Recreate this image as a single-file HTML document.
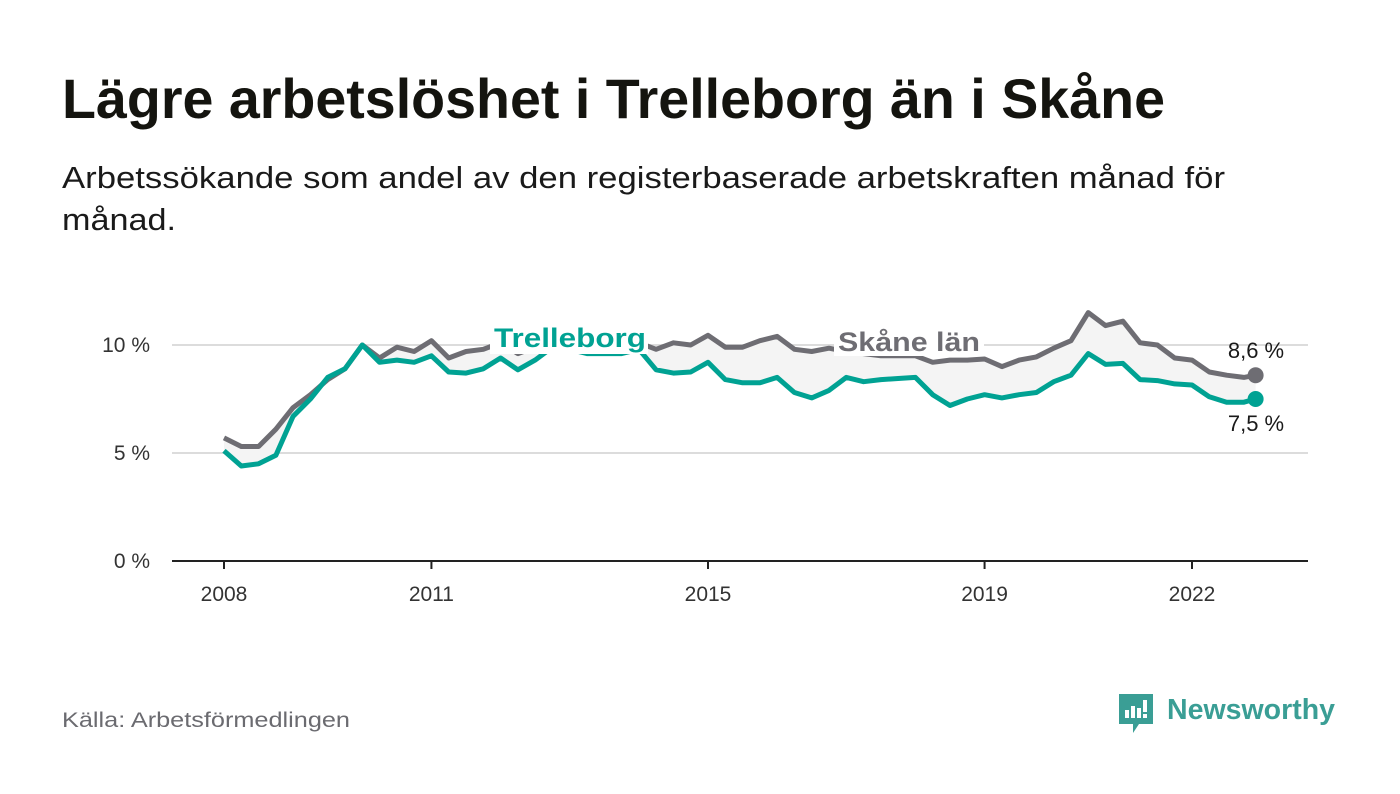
<!DOCTYPE html>
<html><head><meta charset="utf-8"><style>
body{margin:0;background:#fff;}
svg{display:block;font-family:"Liberation Sans",sans-serif;}
</style></head><body>
<svg width="1400" height="794" viewBox="0 0 1400 794" id="chart">
<text x="62" y="118" font-size="56" font-weight="bold" fill="#14140f" textLength="1103" lengthAdjust="spacingAndGlyphs">Lägre arbetslöshet i Trelleborg än i Skåne</text>
<text x="62" y="188" font-size="31" fill="#1a1a1a" textLength="1163" lengthAdjust="spacingAndGlyphs">Arbetssökande som andel av den registerbaserade arbetskraften månad för</text>
<text x="62" y="230" font-size="31" fill="#1a1a1a" textLength="114" lengthAdjust="spacingAndGlyphs">månad.</text>
<g id="grid"></g>
<g id="plot"></g>
<text x="62" y="727" font-size="21" fill="#6b6b70" textLength="288" lengthAdjust="spacingAndGlyphs">Källa: Arbetsförmedlingen</text>
<g>
<path d="M1119 694 h34 v30 h-14 l-6 9 v-9 h-14 z" fill="#3a9e95"/>
<rect x="1125" y="710" width="4" height="8" fill="#fff"/>
<rect x="1131" y="706" width="4" height="12" fill="#fff"/>
<rect x="1137" y="708" width="4" height="10" fill="#fff"/>
<rect x="1143" y="700" width="4" height="12" fill="#fff"/>
<rect x="1143" y="714" width="4" height="4" fill="#fff"/>
<text x="1167" y="719" font-size="29" font-weight="bold" fill="#3a9e95" textLength="168" lengthAdjust="spacingAndGlyphs">Newsworthy</text>
</g>
</svg>
<script>
const years=[2008,2008.25,2008.5,2008.75,2009,2009.25,2009.5,2009.75,2010,2010.25,2010.5,2010.75,2011,2011.25,2011.5,2011.75,2012,2012.25,2012.5,2012.75,2013,2013.25,2013.5,2013.75,2014,2014.25,2014.5,2014.75,2015,2015.25,2015.5,2015.75,2016,2016.25,2016.5,2016.75,2017,2017.25,2017.5,2017.75,2018,2018.25,2018.5,2018.75,2019,2019.25,2019.5,2019.75,2020,2020.25,2020.5,2020.75,2021,2021.25,2021.5,2021.75,2022,2022.25,2022.5,2022.75,2022.92];
const skane=[5.7,5.3,5.3,6.1,7.1,7.7,8.4,8.9,10.0,9.4,9.9,9.7,10.2,9.4,9.7,9.8,10.1,9.6,9.9,10.2,10.3,10.2,10.0,10.1,10.1,9.8,10.1,10.0,10.45,9.9,9.9,10.2,10.4,9.8,9.7,9.85,9.7,9.6,9.5,9.5,9.5,9.2,9.3,9.3,9.35,9.0,9.3,9.45,9.85,10.2,11.5,10.9,11.1,10.1,10.0,9.4,9.3,8.75,8.6,8.5,8.6];
const trelleborg=[5.1,4.4,4.5,4.9,6.7,7.5,8.5,8.9,10.0,9.2,9.3,9.2,9.5,8.75,8.7,8.9,9.4,8.85,9.3,9.9,9.8,9.6,9.6,9.6,9.8,8.85,8.7,8.75,9.2,8.4,8.25,8.25,8.5,7.8,7.55,7.9,8.5,8.3,8.4,8.45,8.5,7.7,7.2,7.5,7.7,7.55,7.7,7.8,8.3,8.6,9.6,9.1,9.15,8.4,8.35,8.2,8.15,7.6,7.35,7.35,7.5];
const yTicks=[0,5,10];
const yTickLabels=["0 %","5 %","10 %"];
const xTicks=[2008,2011,2015,2019,2022];
const NS="http://www.w3.org/2000/svg";
const X=y=>224+(y-2008)*(1192-224)/14;
const Y=v=>561-v*21.6;
function mk(tag,attrs,parent){const e=document.createElementNS(NS,tag);for(const k in attrs)e.setAttribute(k,attrs[k]);parent.appendChild(e);return e;}
const grid=document.getElementById('grid'),plot=document.getElementById('plot');
yTicks.forEach((t,i)=>{
  if(t>0){const l=mk('line',{x1:172,x2:1308,y1:Y(t),y2:Y(t),stroke:'#dcdcdc','stroke-width':2},grid);
  
  }
  const tx=mk('text',{x:150,y:Y(t)+7,'font-size':21,fill:'#333','text-anchor':'end'},grid);
  tx.textContent=yTickLabels[i];
  
  
});
const ax=mk('line',{x1:172,x2:1308,y1:561,y2:561,stroke:'#222','stroke-width':2},grid);


xTicks.forEach(t=>{
  mk('line',{x1:X(t),x2:X(t),y1:561,y2:569,stroke:'#222','stroke-width':2},grid);
  const tx=mk('text',{x:X(t),y:601,'font-size':21,fill:'#333','text-anchor':'middle'},grid);
  tx.textContent=t;
  
  
});
const pts=arr=>arr.map((v,i)=>X(years[i]).toFixed(1)+','+Y(v).toFixed(1));
const band=mk('polygon',{points:pts(skane).concat(pts(trelleborg).reverse()).join(' '),fill:'#f4f4f4'},plot);


const gl=mk('polyline',{points:pts(skane).join(' '),fill:'none',stroke:'#6e6d73','stroke-width':5,'stroke-linejoin':'round'},plot);


const tl=mk('polyline',{points:pts(trelleborg).join(' '),fill:'none',stroke:'#00a293','stroke-width':5,'stroke-linejoin':'round'},plot);


const n=years.length-1;
const gd=mk('circle',{cx:X(years[n]),cy:Y(skane[n]),r:8,fill:'#6e6d73'},plot);


const td=mk('circle',{cx:X(years[n]),cy:Y(trelleborg[n]),r:8,fill:'#00a293'},plot);


const sv=mk('text',{x:1256,y:Y(skane[n])-17,'font-size':22,fill:'#1a1a1a','text-anchor':'middle'},plot);
sv.textContent=String(skane[n]).replace('.',',')+' %';


const tv=mk('text',{x:1256,y:Y(trelleborg[n])+32,'font-size':22,fill:'#1a1a1a','text-anchor':'middle'},plot);
tv.textContent=String(trelleborg[n]).replace('.',',')+' %';


mk('rect',{x:490,y:323,width:158,height:31,fill:'#fff'},plot);
const tlab=mk('text',{x:494,y:347,'font-size':27,'font-weight':'bold',fill:'#00a293',textLength:152,lengthAdjust:'spacingAndGlyphs'},plot);
tlab.textContent='Trelleborg';


mk('rect',{x:834,y:326,width:150,height:30,fill:'#fff'},plot);
const slab=mk('text',{x:838,y:351,'font-size':27,'font-weight':'bold',fill:'#6e6d73',textLength:142,lengthAdjust:'spacingAndGlyphs'},plot);
slab.textContent='Skåne län';


</script>
</body></html>
